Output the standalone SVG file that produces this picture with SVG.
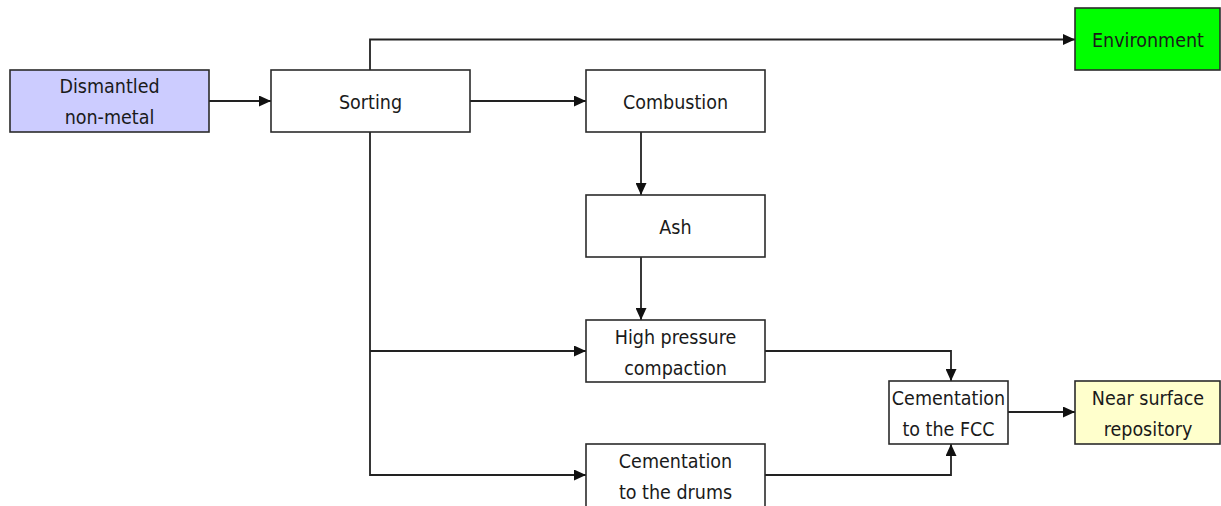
<svg xmlns="http://www.w3.org/2000/svg" width="1221" height="506" viewBox="0 0 1221 506">
  <style>
    .box { stroke: #2b2b2b; stroke-width: 1.6; fill: #ffffff; }
    .lbl { font-family: "DejaVu Sans Condensed", "DejaVu Sans", sans-serif; font-stretch: condensed; font-size: 19.5px; fill: #1a1a1a; text-anchor: middle; }
    .wire { fill: none; stroke: #222222; stroke-width: 1.8; }
  </style>
  <defs>
    <marker id="arr" viewBox="0 0 12 11" refX="12" refY="5.5" markerWidth="12" markerHeight="11" markerUnits="userSpaceOnUse" orient="auto">
      <path d="M0,0 L12,5.5 L0,11 z" fill="#111111"/>
    </marker>
  </defs>
  <rect width="1221" height="506" fill="#ffffff"/>

  <g id="connectors">
    <path class="wire" d="M209,101 H271" marker-end="url(#arr)"/>
    <path class="wire" d="M470,101 H586" marker-end="url(#arr)"/>
    <path class="wire" d="M370,70 V39.5 H1075" marker-end="url(#arr)"/>
    <path class="wire" d="M370,132 V475 H586" marker-end="url(#arr)"/>
    <path class="wire" d="M370,351 H586" marker-end="url(#arr)"/>
    <path class="wire" d="M641,132 V195" marker-end="url(#arr)"/>
    <path class="wire" d="M641,257 V320" marker-end="url(#arr)"/>
    <path class="wire" d="M765,351 H951 V381" marker-end="url(#arr)"/>
    <path class="wire" d="M765,475 H951 V444" marker-end="url(#arr)"/>
    <path class="wire" d="M1008,412 H1075" marker-end="url(#arr)"/>
  </g>

  <g id="dismantled">
    <rect class="box" x="10" y="70" width="199" height="62" style="fill:#ccccff"/>
    <text class="lbl" x="109.5" y="93">Dismantled</text>
    <text class="lbl" x="109.5" y="124">non-metal</text>
  </g>
  <g id="sorting">
    <rect class="box" x="271" y="70" width="199" height="62"/>
    <text class="lbl" x="370.5" y="108.5">Sorting</text>
  </g>
  <g id="environment">
    <rect class="box" x="1075" y="8" width="145" height="62" style="fill:#00ff00"/>
    <text class="lbl" x="1148" y="46.5">Environment</text>
  </g>
  <g id="combustion">
    <rect class="box" x="586" y="70" width="179" height="62"/>
    <text class="lbl" x="675.5" y="108.5">Combustion</text>
  </g>
  <g id="ash">
    <rect class="box" x="586" y="195" width="179" height="62"/>
    <text class="lbl" x="675.5" y="233.5">Ash</text>
  </g>
  <g id="compaction">
    <rect class="box" x="586" y="320" width="179" height="62"/>
    <text class="lbl" x="675.5" y="343.5">High pressure</text>
    <text class="lbl" x="675.5" y="374.5">compaction</text>
  </g>
  <g id="cementation-fcc">
    <rect class="box" x="889" y="381" width="119" height="63"/>
    <text class="lbl" x="948.5" y="405">Cementation</text>
    <text class="lbl" x="948.5" y="436">to the FCC</text>
  </g>
  <g id="repository">
    <rect class="box" x="1075" y="381" width="145" height="63" style="fill:#ffffcc"/>
    <text class="lbl" x="1148" y="405">Near surface</text>
    <text class="lbl" x="1148" y="436">repository</text>
  </g>
  <g id="cementation-drums">
    <rect class="box" x="586" y="444" width="179" height="66"/>
    <text class="lbl" x="675.5" y="468">Cementation</text>
    <text class="lbl" x="675.5" y="499">to the drums</text>
  </g>
</svg>
